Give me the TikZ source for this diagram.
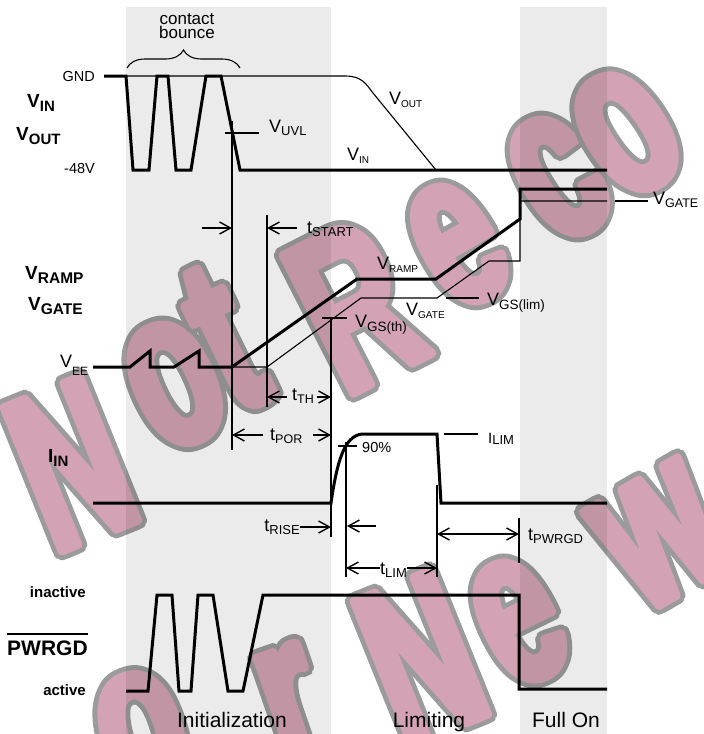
\documentclass[tikz,border=0pt]{standalone}
\usepackage{fontspec}
\setmainfont{Liberation Sans}
\newfontfamily\wmfont[FakeStretch=0.62]{Liberation Sans}
\usetikzlibrary{arrows.meta,decorations.pathreplacing}

\definecolor{wmpink}{RGB}{211,162,180}
\definecolor{wmline}{RGB}{155,155,155}

% subscript: size in pt, lowered by a third of it
\newcommand{\sub}[2][13]{\raisebox{-0.3\dimexpr#1pt\relax}{\fontsize{#1}{#1}\selectfont #2}}
% letter filled and stroked, so it comes out heavier
\newcommand{\fat}[1]{\special{pdf:literal direct 2 Tr 1 j 8 w}#1\special{pdf:literal direct 0 Tr}}
% one watermark letter: x, y, angle, letter (grey rim from shifted copies)
\newcommand{\wmchar}[4]{%
  \foreach \dx/\dy in {5/0,-5/0,0/5,0/-5,3.5/3.5,-3.5/3.5,3.5/-3.5,-3.5/-3.5}
    \node[wm, text=wmline, rotate=#3] at ([xshift=\dx pt,yshift=\dy pt]#1,#2) {\fat{#4}};
  \node[wm, text=wmpink, rotate=#3] at (#1,#2) {\fat{#4}};}

\tikzset{
  band/.style={black, fill opacity=0.078},
  sig/.style={line width=3pt},
  aux/.style={line width=1.1pt},
  dim/.style={aux, -{Straight Barb[length=11pt,width=12pt,line width=1.4pt]}},
  lbl/.style={inner sep=0pt, anchor=base west, font=\fontsize{18}{18}\selectfont},
  axlbl/.style={inner sep=0pt, anchor=base west, font=\fontsize{19}{19}\selectfont\bfseries},
  lvl/.style={inner sep=0pt, anchor=base east, font=\fontsize{14.5}{14.5}\selectfont},
  phase/.style={inner sep=0pt, anchor=base, font=\fontsize{21}{21}\selectfont},
  wm/.style={inner sep=0pt, anchor=base, font={\wmfont\bfseries\fontsize{226}{226}\selectfont}},
}

\begin{document}
\begin{tikzpicture}[x=1pt, y=-1pt]
\useasboundingbox (0,0) rectangle (704,734);

% watermark
\begin{scope}
\clip (0,0) rectangle (704,734);
\foreach \x/\y/\a/\ch in {100/536/22/N, 200/438/25/o, 256/404/26/t, 390/375/27/R,
    488/296/30/e, 590/228/32/c, 660/182/34/o,
    160/792/17/o, 312/765/19/r, 450/730/22/N, 545/675/26/e, 690/588/30/w}
  {\wmchar{\x}{\y}{\a}{\ch}}
\end{scope}

% phases
\fill[band] (126,7) rectangle (331,734);
\fill[band] (520,7) rectangle (607,734);

\node[phase] (init) at (232,727) {Initialization};
\node[phase] (limit) at (429,727) {Limiting};
\node[phase] (fullon) at (566,727) {Full On};

% V_IN, V_OUT
\node[axlbl] (vin) at (27,107) {V\sub[15]{IN}};
\node[axlbl] (vout) at (16,140) {V\sub[15]{OUT}};
\node[lvl] (gnd) at (95,81) {GND};
\node[lvl] (m48) at (95,173) {-48V};

\draw[sig] (104,76) -- (126,76) -- (133,170) -- (149,170) -- (157,76) -- (168,76)
  -- (176,170) -- (191,170) -- (206,76) -- (221,76) -- (240,170) -- (607,170);
\draw[aux] (126,76) -- (345,76) .. controls (362,76) and (366,84) .. (373,93) -- (436,170);

\draw[aux, decorate, decoration={brace, amplitude=18pt}] (127,68) -- (240,68);
\node[inner sep=0pt, align=center, font=\fontsize{17}{14}\selectfont] (bounce) at (187,26) {contact\\bounce};

\draw[aux] (225,133) -- (259,133);
\node[lbl] (vuvl) at (269,132) {V\sub{UVL}};
\node[lbl] (voutl) at (389,104) {V\sub[10]{OUT}};
\node[lbl] (vinl) at (347,160) {V\sub[10]{IN}};

% V_RAMP, V_GATE
\node[axlbl] (vramp) at (25,279) {V\sub[15.5]{RAMP}};
\node[axlbl] (vgate) at (28,310) {V\sub[15.5]{GATE}};
\node[lbl] (vee) at (60,367) {V\raisebox{-8pt}{\fontsize{12}{12}\selectfont EE}};

\draw[sig] (93,367) -- (130,367) -- (150,351) -- (150,367) -- (174,367) -- (199,351) -- (199,367)
  -- (232,367) -- (357,279) -- (436,279) -- (520,219) -- (520,189) -- (607,189);
\draw[aux] (232,367) -- (267,367) -- (361,298) -- (437,298) -- (489,261) -- (520,261)
  -- (520,201) -- (607,201);

\node[lbl] (vrampl) at (377,269) {V\sub[10]{RAMP}};
\node[lbl] (vgatel) at (406,315) {V\sub[10]{GATE}};
\draw[aux] (322,318) -- (347,318);
\node[lbl] (vgsth) at (355,327) {V\sub[13.5]{GS(th)}};
\draw[aux] (446,298) -- (479,298);
\node[lbl] (vgslim) at (487,305) {V\sub[13.5]{GS(lim)}};
\draw[aux] (615,201) -- (648,201);
\node[lbl] (vgater) at (653,204) {V\sub[12.5]{GATE}};

% timing marks
\draw[aux] (232,121) -- (232,450);
\draw[aux] (267,215) -- (267,407);
\draw[aux] (331,318) -- (331,537);
\draw[aux] (346,442) -- (346,577);
\draw[aux] (437,485) -- (437,577);
\draw[aux] (519,518) -- (519,563);

\draw[dim] (202,228) -- (232,228);
\draw[dim] (297,228) -- (267,228);
\node[lbl] (tstart) at (307,233) {t\sub{START}};

\draw[dim] (287,397) -- (267,397);
\draw[dim] (317,397) -- (331,397);
\node[lbl] (tth) at (292,400) {t\sub[12.5]{TH}};

\draw[dim] (263,435) -- (232,435);
\draw[dim] (313,435) -- (331,435);
\node[lbl] (tpor) at (270,440) {t\sub[12.5]{POR}};

% I_IN
\node[axlbl] (iin) at (48,462) {I\sub[15]{IN}};
\draw[sig] (93,503) -- (331,503) .. controls (337,462) and (344,436) .. (362,434) -- (437,434)
  -- (441,503) -- (607,503);
\draw[aux] (338,446) -- (357,446);
\node[lbl, font=\fontsize{14.5}{14.5}\selectfont] (p90) at (362,452) {90\%};
\draw[aux] (444,434) -- (478,434);
\node[lbl, font=\fontsize{15}{15}\selectfont] (ilim) at (488,443) {I\raisebox{-1pt}{\fontsize{13}{13}\selectfont LIM}};

\node[lbl, anchor=base east] (trise) at (300,531) {t\sub{RISE}};
\draw[dim] (300,527) -- (331,527);
\draw[dim] (376,526) -- (347,526);

\draw[aux, {Straight Barb[length=11pt,width=12pt,line width=1.4pt]}-{Straight Barb[length=11pt,width=12pt,line width=1.4pt]}] (437,534) -- (519,534);
\node[lbl] (tpwrgd) at (528,540) {t\sub{PWRGD}};

\draw[dim] (380,568) -- (346,568);
\draw[dim] (407,568) -- (437,568);
\node[lbl] (tlim) at (380,574) {t\sub{LIM}};

% PWRGD
\node[lvl, font=\fontsize{15}{15}\selectfont\bfseries] (inact) at (86,597) {inactive};
\node[lvl, font=\fontsize{15}{15}\selectfont\bfseries] (act) at (86,695) {active};
\node[axlbl, font=\fontsize{21}{21}\selectfont\bfseries] (pwrgd) at (7,655) {PWRGD};
\draw[line width=2pt] ([yshift=6pt]pwrgd.north west) -- ([yshift=6pt]pwrgd.north east);

\draw[sig] (126,691) -- (148,691) -- (157,595) -- (172,595) -- (179,691) -- (191,691) -- (198,595)
  -- (213,595) -- (228,691) -- (243,691) -- (263,595) -- (519,595) -- (519,689) -- (607,689);

\end{tikzpicture}
\end{document}
